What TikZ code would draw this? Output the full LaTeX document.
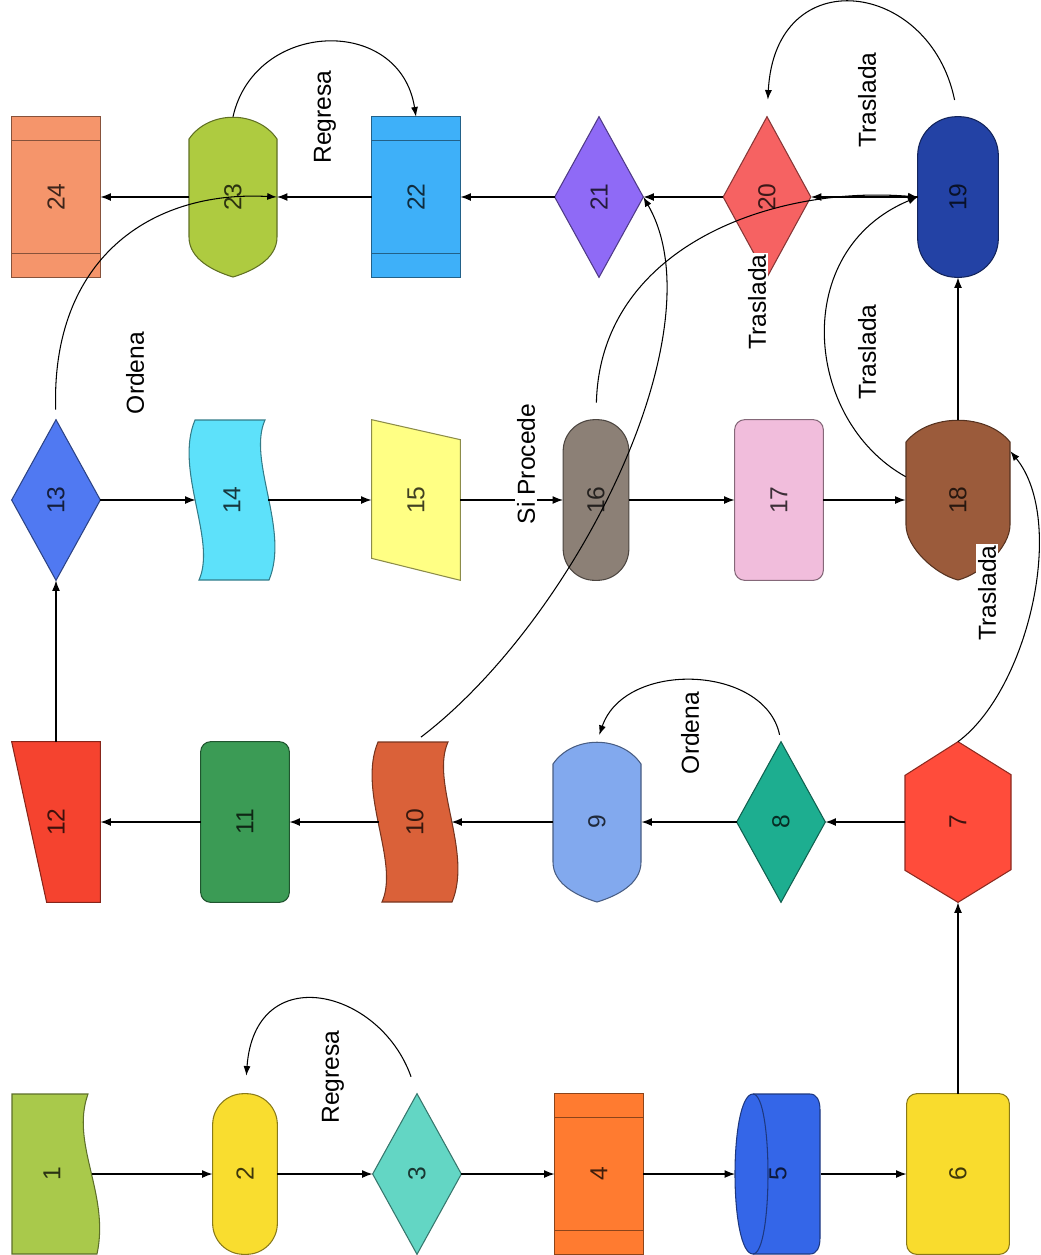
\documentclass[tikz,border=0pt]{standalone}
\usepackage{fontspec}
\setmainfont{Liberation Sans}
\usepackage{graphicx}
\usetikzlibrary{arrows.meta}

\pgfdeclarelayer{bg}
\pgfsetlayers{bg,main}

\definecolor{c1}{HTML}{A9C94B}
\definecolor{c2}{HTML}{F9DD2F}
\definecolor{c3}{HTML}{63D6C4}
\definecolor{c4}{HTML}{FF7B30}
\definecolor{c5}{HTML}{3466E8}
\definecolor{c6}{HTML}{F9DC2D}
\definecolor{c7}{HTML}{FF4C3B}
\definecolor{c8}{HTML}{1DAE90}
\definecolor{c9}{HTML}{82A9EE}
\definecolor{c10}{HTML}{DA6139}
\definecolor{c11}{HTML}{3B9B55}
\definecolor{c12}{HTML}{F5432F}
\definecolor{c13}{HTML}{5079F2}
\definecolor{c14}{HTML}{5DE1FA}
\definecolor{c15}{HTML}{FFFF84}
\definecolor{c16}{HTML}{8C8076}
\definecolor{c17}{HTML}{F1BDDC}
\definecolor{c18}{HTML}{9B5B3B}
\definecolor{c19}{HTML}{2342A5}
\definecolor{c20}{HTML}{F66262}
\definecolor{c21}{HTML}{8F6AF6}
\definecolor{c22}{HTML}{3EB0F9}
\definecolor{c23}{HTML}{AECB40}
\definecolor{c24}{HTML}{F5956B}

\newcommand\vt[1]{\rotatebox{90}{#1}}

\tikzset{
	blk/.style={minimum height=3.2cm, inner sep=0pt, text=#1!25!black,
		font=\fontsize{14}{16}\selectfont},
	rim/.style={draw=#1!55!black, line width=0.6pt},
	shp/.style={rim=#1, fill=#1},
	arr/.style={-{Latex[length=6pt,width=4.5pt]}, line width=0.8pt},
	crv/.style={-{Latex[length=5.5pt,width=4pt]}, line width=0.6pt},
	lbl/.style={rotate=90, fill=white, inner sep=1pt, font=\fontsize{14}{16}\selectfont}
}

% shapes behind the nodes
\newcommand\diashape[2]{\draw[shp=#2] (#1.north) -- (#1.east) -- (#1.south) -- (#1.west) -- cycle;}
\newcommand\boxshape[2]{\draw[shp=#2, rounded corners=0.2cm] (#1.north west) rectangle (#1.south east);}
\newcommand\pillshape[3]{\draw[shp=#2, rounded corners=#3] (#1.north west) rectangle (#1.south east);}
\newcommand\predshape[2]{%
	\draw[shp=#2] (#1.north west) rectangle (#1.south east);
	\draw[rim=#2] ([yshift=-0.48cm]#1.north west) -- ([yshift=-0.48cm]#1.north east)
		([yshift=0.48cm]#1.south west) -- ([yshift=0.48cm]#1.south east);}
\newcommand\dispshape[4]{\begin{scope}[shift={(#1.center)}]
	\draw[shp=#2] ({-#3},-58) .. controls ({-0.55*#3},-87) and ({0.55*#3},-87) .. (#3,-58)
		-- (#3,#4) .. controls (#3,{#4+22}) and ({0.45*#3},74) .. (0,80)
		.. controls ({-0.45*#3},74) and ({-#3},{#4+22}) .. ({-#3},#4) -- cycle;
	\end{scope}}
\newcommand\tapeshape[2]{\begin{scope}[shift={(#1.center)}]
	\draw[shp=#2] (-37,-80) -- (33,-80) .. controls (15,-40) and (58,30) .. (37,80)
		-- (-33,80) .. controls (-15,40) and (-58,-30) .. (-37,-80) -- cycle;
	\end{scope}}

\begin{document}
\begin{tikzpicture}[x=0.02cm, y=-0.02cm]
	\useasboundingbox (0,0) rectangle (1041,1255);

	% row 1
	\node[blk=c1, minimum width=1.58cm] (n1) at (52,1174) {\vt{1}};
	\node[blk=c2, minimum width=1.28cm] (n2) at (245,1174) {\vt{2}};
	\node[blk=c3, minimum width=1.76cm] (n3) at (417,1174) {\vt{3}};
	\node[blk=c4, minimum width=1.76cm] (n4) at (599,1174) {\vt{4}};
	\node[blk=c5, minimum width=1.70cm] (n5) at (778,1174) {\vt{5}};
	\node[blk=c6, minimum width=2.04cm] (n6) at (958,1174) {\vt{6}};
	% row 2
	\node[blk=c7, minimum width=2.12cm] (n7) at (958,822) {\vt{7}};
	\node[blk=c8, minimum width=1.76cm] (n8) at (781,822) {\vt{8}};
	\node[blk=c9, minimum width=1.76cm] (n9) at (597,822) {\vt{9}};
	\node[blk=c10, minimum width=1.44cm] (n10) at (415,822) {\vt{10}};
	\node[blk=c11, minimum width=1.76cm] (n11) at (245,822) {\vt{11}};
	\node[blk=c12, minimum width=1.76cm] (n12) at (56,822) {\vt{12}};
	% row 3
	\node[blk=c13, minimum width=1.76cm] (n13) at (56,500) {\vt{13}};
	\node[blk=c14, minimum width=1.44cm] (n14) at (232,500) {\vt{14}};
	\node[blk=c15, minimum width=1.76cm] (n15) at (416,500) {\vt{15}};
	\node[blk=c16, minimum width=1.30cm] (n16) at (596,500) {\vt{16}};
	\node[blk=c17, minimum width=1.76cm] (n17) at (779,500) {\vt{17}};
	\node[blk=c18, minimum width=2.08cm] (n18) at (958,500) {\vt{18}};
	% row 4
	\node[blk=c19, minimum width=1.60cm] (n19) at (958,197) {\vt{19}};
	\node[blk=c20, minimum width=1.74cm] (n20) at (767,197) {\vt{20}};
	\node[blk=c21, minimum width=1.76cm] (n21) at (599,197) {\vt{21}};
	\node[blk=c22, minimum width=1.76cm] (n22) at (416,197) {\vt{22}};
	\node[blk=c23, minimum width=1.74cm] (n23) at (233,197) {\vt{23}};
	\node[blk=c24, minimum width=1.76cm] (n24) at (56,197) {\vt{24}};

	\begin{pgfonlayer}{bg}
		\begin{scope}[shift={(n1.center)}]
			\draw[shp=c1] (-40,-80) -- (36,-80) .. controls (18,-30) and (58,20) .. (45,80) -- (-40,80) -- cycle;
		\end{scope}
		\pillshape{n2}{c2}{0.62cm}
		\diashape{n3}{c3}
		\predshape{n4}{c4}
		\begin{scope}[shift={(n5.center)}]
			\draw[shp=c5] (-25,-80) -- (32,-80) .. controls (39,-80) and (42,-73) .. (42,-64) -- (42,64)
				.. controls (42,73) and (39,80) .. (32,80) -- (-25,80) .. controls (-49,80) and (-49,-80) .. (-25,-80) -- cycle;
			\draw[rim=c5] (-25,-80) .. controls (-5,-80) and (-5,80) .. (-25,80);
		\end{scope}
		\boxshape{n6}{c6}
		\draw[shp=c7] (n7.north) -- ++(53,33) -- ++(0,95) -- (n7.south) -- ++(-53,-32) -- ++(0,-95) -- cycle;
		\diashape{n8}{c8}
		\dispshape{n9}{c9}{44}{40}
		\tapeshape{n10}{c10}
		\boxshape{n11}{c11}
		\draw[shp=c12] (n12.north west) -- (n12.north east) -- (n12.south east) -- ([xshift=0.7cm]n12.south west) -- cycle;
		\diashape{n13}{c13}
		\tapeshape{n14}{c14}
		\draw[shp=c15] (n15.north west) -- ([yshift=-0.4cm]n15.north east) -- (n15.south east) -- ([yshift=0.44cm]n15.south west) -- cycle;
		\pillshape{n16}{c16}{0.63cm}
		\boxshape{n17}{c17}
		\dispshape{n18}{c18}{52}{25}
		\pillshape{n19}{c19}{0.78cm}
		\diashape{n20}{c20}
		\diashape{n21}{c21}
		\predshape{n22}{c22}
		\dispshape{n23}{c23}{44}{40}
		\predshape{n24}{c24}
	\end{pgfonlayer}

	% straight flow
	\foreach \a/\b in {n1/n2,n2/n3,n3/n4,n4/n5,n5/n6,n13/n14,n14/n15,n15/n16,n16/n17,n17/n18}
		\draw[arr] (\a.east) -- (\b.west);
	\foreach \a/\b in {n7/n8,n8/n9,n9/n10,n10/n11,n11/n12,n19/n20,n20/n21,n21/n22,n22/n23,n23/n24}
		\draw[arr] (\a.west) -- (\b.east);
	\foreach \a/\b in {n6/n7,n12/n13,n18/n19}
		\draw[arr] (\a.north) -- (\b.south);

	% curved links
	\draw[crv, shorten <=0.36cm, shorten >=0.36cm] (n3.north) .. controls +(-37,-105) and +(10,-135) .. (n2.north);
	\draw[crv, shorten <=0.14cm, shorten >=0.14cm] (n8.north) .. controls +(-16,-77) and +(28,-82) .. (n9.north);
	\draw[crv] (n7.north) .. controls +(70,-52) and +(57,70) .. (n18.43);
	\draw[crv, shorten <=0.15cm] (n10.north) .. controls +(160,-122) and +(77,133) .. (n21.east);
	\draw[crv, shorten <=0.34cm] (n16.north) .. controls +(4,-170) and +(-150,-12) .. (n19.west);
	\draw[crv] (n18.156) .. controls +(-102,-57) and +(-128,53) .. (n19.west);
	\draw[crv, shorten <=0.34cm, shorten >=0.34cm] (n19.north) .. controls +(-28,-137) and +(8,-157) .. (n20.north);
	\draw[crv] (n23.north) .. controls +(22,-97) and +(-16,-102) .. (n22.north);
	\draw[crv, shorten <=0.2cm] (n13.north) .. controls +(-5,-160) and +(-127,-7) .. (n23.east);

	% labels
	\node[lbl] (t1) at (333,1077) {Regresa};
	\node[lbl] (t2) at (690,733) {Ordena};
	\node[lbl] (t3) at (987,593) {Traslada};
	\node[lbl] (t4) at (526,464) {Si Procede};
	\node[lbl] (t5) at (867,352) {Traslada};
	\node[lbl] (t6) at (757,302) {Traslada};
	\node[lbl] (t7) at (867,100) {Traslada};
	\node[lbl] (t8) at (325,117) {Regresa};
	\node[lbl] (t9) at (135,373) {Ordena};
\end{tikzpicture}
\end{document}
